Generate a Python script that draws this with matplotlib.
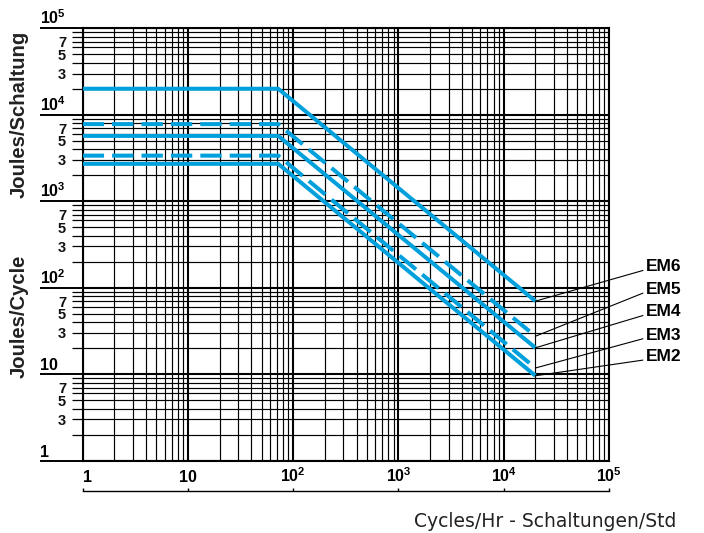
import numpy as np
import matplotlib
matplotlib.use("Agg")
import matplotlib.pyplot as plt

# data
models = ["EM6", "EM5", "EM4", "EM3", "EM2"]
flat_joules = [2.0e4, 7.8e3, 5.7e3, 3.37e3, 2.71e3]
end_joules = [70.0, 27.5, 20.2, 11.8, 9.6]
corner_cycles = 72
end_cycles = 2.0e4
dashed_models = ["EM5", "EM3"]

x_decades = [1, 10, 100, 1000, 10000, 100000]
x_labels = ["1", "10", r"10$^{\mathbf{2}}$", r"10$^{\mathbf{3}}$", r"10$^{\mathbf{4}}$", r"10$^{\mathbf{5}}$"]
y_decades = [1, 10, 100, 1000, 10000, 100000]
y_labels = ["1", "10", r"10$^{\mathbf{2}}$", r"10$^{\mathbf{3}}$", r"10$^{\mathbf{4}}$", r"10$^{\mathbf{5}}$"]
minor_mult = [2, 3, 4, 5, 6, 7, 8, 9]
minor_shown = {3: "3", 5: "5", 7: "7"}

label_y = [0.4487, 0.397, 0.3446, 0.2907, 0.2405]

plt.rcParams["font.family"] = ["Liberation Sans", "DejaVu Sans"]
plt.rcParams["mathtext.fontset"] = "custom"
plt.rcParams["mathtext.rm"] = "Liberation Sans:bold"
plt.rcParams["mathtext.bf"] = "Liberation Sans:bold"

blue = "#00a0dc"

fig = plt.figure(figsize=(7.04, 5.33), dpi=100)
ax = fig.add_axes([82.7 / 704, 1 - 460.7 / 533, (609 - 82.7) / 704, (460.7 - 28.3) / 533])
ax.set_xscale("log")
ax.set_yscale("log")
ax.set_xlim(1, 1e5)
ax.set_ylim(1, 1e5)

minor_x = [m * d for d in x_decades[:-1] for m in minor_mult]
minor_y = [m * d for d in y_decades[:-1] for m in minor_mult]

ax.set_xticks(x_decades, [""] * len(x_decades))
ax.set_xticks(minor_x, [""] * len(minor_x), minor=True)
ax.set_yticks(y_decades, [""] * len(y_decades))
ylab_minor = [minor_shown.get(int(round(v / 10 ** np.floor(np.log10(v) + 1e-9))), "") for v in minor_y]
ax.set_yticks(minor_y, ylab_minor, minor=True)

ax.tick_params(axis="x", which="both", length=0)
ax.tick_params(axis="y", which="major", length=30.7, width=1.4, color="black")
ax.tick_params(axis="y", which="minor", length=7.9, width=0.9, color="black",
               pad=4, labelsize=10.5, labelcolor="#111111")
for t in ax.get_yticklabels(minor=True):
    t.set_fontweight("bold")

ax.grid(True, which="major", color="black", lw=1.5)
ax.grid(True, which="minor", color="black", lw=0.85)
ax.set_axisbelow(True)
for sp in ax.spines.values():
    sp.set_linewidth(1.5)

# curves
for name, fj, ej in zip(models, flat_joules, end_joules):
    xs = [1, corner_cycles, end_cycles]
    ys = [fj, fj, ej]
    line, = ax.plot(xs, ys, color=blue, lw=2.9, solid_capstyle="butt", zorder=3)
    if name in dashed_models:
        line.set_dashes([5.3, 2.0])
        line.set_dash_capstyle("butt")

# leader labels
for name, ej, ly in zip(models, end_joules, label_y):
    ax.annotate(name, xy=(end_cycles, ej), xycoords="data",
                xytext=(1.0697, ly), textcoords="axes fraction",
                ha="left", va="center", fontsize=12.5, fontweight="bold",
                annotation_clip=False,
                arrowprops=dict(arrowstyle="-", lw=0.8, color="black",
                                shrinkA=0, shrinkB=0, relpos=(0, 0.3)))

# decade labels on x
xtr = ax.get_xaxis_transform()
for i, (xv, lab) in enumerate(zip(x_decades, x_labels)):
    ax.text(xv, -0.0486, lab, transform=xtr, ha="left" if i == 0 else "center",
            va="baseline", fontsize=11.5, fontweight="bold", clip_on=False)

# decade labels on y
ytr = ax.get_yaxis_transform()
for yv, lab in zip(y_decades, y_labels):
    ax.text(-0.081, yv * 1.03, lab, transform=ytr, ha="left", va="bottom",
            fontsize=11.5, fontweight="bold", clip_on=False)

# scale bar under the axis
sec = ax.secondary_xaxis(-0.070)
sec.set_xticks(x_decades, [""] * len(x_decades))
sec.tick_params(axis="x", which="major", direction="in", length=2.5, width=1.0)
sec.tick_params(axis="x", which="minor", length=0)
sec.spines["bottom"].set_linewidth(1.0)

fig.text(0.0277, 0.7852, "Joules/Schaltung", rotation=90, ha="center", va="center",
         fontsize=14.6, fontweight="bold", color="#222222")
fig.text(0.0277, 0.4071, "Joules/Cycle", rotation=90, ha="center", va="center",
         fontsize=14.6, fontweight="bold", color="#222222")
fig.text(0.774, 0.021, "Cycles/Hr - Schaltungen/Std", ha="center", va="center",
         fontsize=13.5, color="#222222", family="DejaVu Sans")

fig.savefig("out.png", dpi=100)
